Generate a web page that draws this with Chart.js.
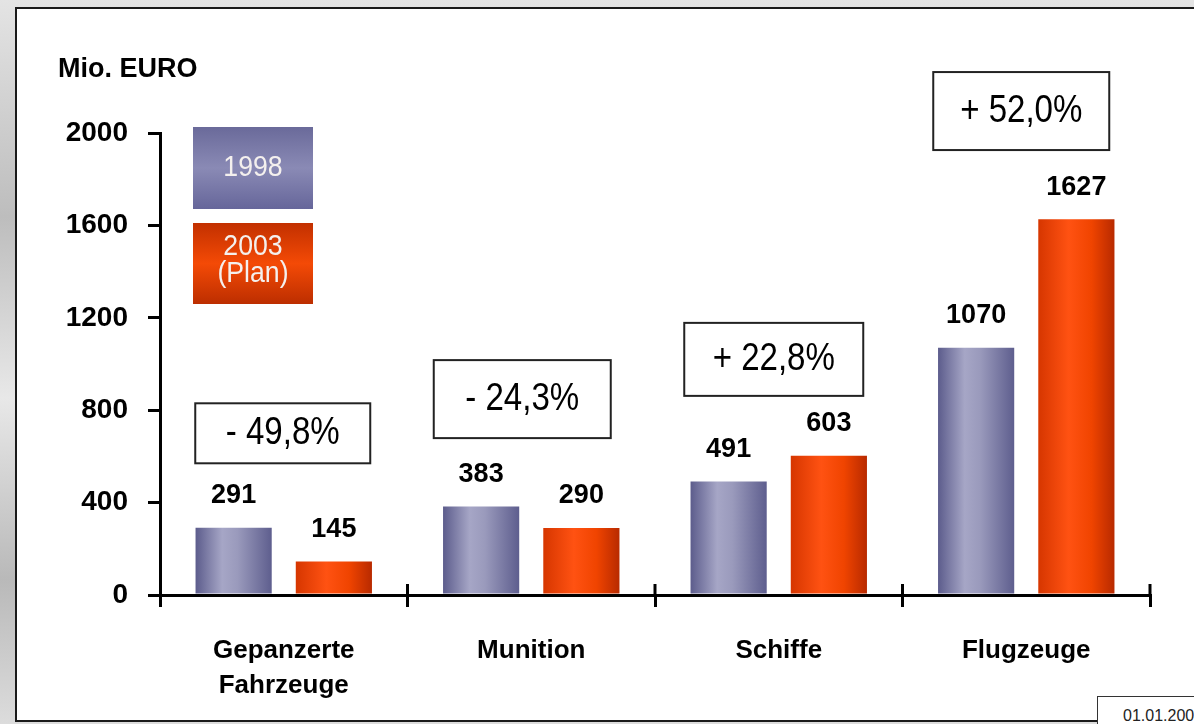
<!DOCTYPE html>
<html>
<head>
<meta charset="utf-8">
<script src="https://cdn.jsdelivr.net/npm/chart.js@4/dist/chart.umd.min.js"></script>
<style>
  html, body { margin: 0; padding: 0; }
  body {
    width: 1194px; height: 724px; overflow: hidden; position: relative;
    background: linear-gradient(180deg, #e4e4e4 0%, #bdbdbd 30%, #e8e8e8 55%, #b9b9b9 80%, #dcdcdc 100%);
  }
  .panel {
    position: absolute; left: 15px; top: 7px; width: 1200px; height: 715px;
    box-sizing: border-box; border: 2px solid #1a1a1a; background: #fff;
  }
  canvas { position: absolute; left: 0; top: 0; }
  .stamp {
    position: absolute; left: 1097px; top: 696px; width: 120px; height: 40px;
    border: 1px solid #333; background: #fff; box-sizing: border-box;
    font: 16px "Liberation Sans", Arial, sans-serif; color: #222;
    padding: 10px 0 0 25px; white-space: nowrap;
  }
</style>
</head>
<body>
<div class="panel"></div>
<canvas id="chart" width="1194" height="724"></canvas>
<div class="stamp">01.01.2003</div>
<script>
// Rüstungsausgaben nach Bereichen, Mio. EURO

const categories = [['Gepanzerte', 'Fahrzeuge'], 'Munition', 'Schiffe', 'Flugzeuge'];
const values1998 = [291, 383, 491, 1070];
const values2003 = [145, 290, 603, 1627];
const changeLabels = ['- 49,8%', '- 24,3%', '+ 22,8%', '+ 52,0%'];
const legendLabels = [['1998'], ['2003', '(Plan)']];
const yTicks = [0, 400, 800, 1200, 1600, 2000];

const FONT = '"Liberation Sans", Arial, sans-serif';
Chart.defaults.font.family = FONT;
Chart.defaults.color = '#000';

// Farbverläufe (horizontal über jeden Balken)
const blueStops = [[0, '#5c5c8c'], [0.35, '#a6a6c6'], [0.55, '#9a9abc'], [1, '#5e5e8e']];
const redStops = [[0, '#d63600'], [0.4, '#ff5212'], [0.7, '#f04400'], [1, '#b82a00']];

// Lage der Prozent-Kästchen (Kategorie, Wert in der Mitte, Verschiebung, Größe)
const changeBoxes = [
    { dx: -1, value: 700, w: 175, h: 60 },
    { dx: -9, value: 848, w: 177, h: 78 },
    { dx: -5, value: 1020, w: 179, h: 73 },
    { dx: -5, value: 2095, w: 176, h: 78 }
];

function makeGradient(ctx, x0, y0, x1, y1, stops) {
    const g = ctx.createLinearGradient(x0, y0, x1, y1);
    stops.forEach(s => g.addColorStop(s[0], s[1]));
    return g;
}

const decorPlugin = {
    id: 'decor',
    beforeDatasetsDraw(chart) {
        const ctx = chart.ctx;
        chart.data.datasets.forEach((ds, i) => {
            const stops = i === 0 ? blueStops : redStops;
            chart.getDatasetMeta(i).data.forEach(el => {
                const g = makeGradient(ctx, el.x - el.width / 2, 0, el.x + el.width / 2, 0, stops);
                el.options = Object.assign({}, el.options, { backgroundColor: g });
            });
        });
    },
    afterDatasetsDraw(chart) {
        const ctx = chart.ctx;
        ctx.save();
        ctx.fillStyle = '#000';
        ctx.font = 'bold 27px ' + FONT;
        ctx.textAlign = 'center';
        ctx.textBaseline = 'middle';
        chart.data.datasets.forEach((ds, i) => {
            chart.getDatasetMeta(i).data.forEach((el, j) => {
                ctx.fillText(String(ds.data[j]), el.x, el.y - 32);
            });
        });
        ctx.restore();
    },
    afterDraw(chart) {
        const ctx = chart.ctx;
        const area = chart.chartArea;
        const xs = chart.scales.x;
        const ys = chart.scales.y;
        ctx.save();

        // Teilstriche der x-Achse auch oberhalb der Achse
        ctx.strokeStyle = '#000';
        ctx.lineWidth = 3;
        for (let i = 1; i <= categories.length; i++) {
            const px = xs.getPixelForValue(i - 0.5);
            ctx.beginPath();
            ctx.moveTo(px, area.bottom - 11);
            ctx.lineTo(px, area.bottom);
            ctx.stroke();
        }

        // Einheit
        ctx.fillStyle = '#000';
        ctx.font = 'bold 27px ' + FONT;
        ctx.textAlign = 'left';
        ctx.textBaseline = 'middle';
        ctx.fillText('Mio. EURO', area.left - 102, area.top - 63);

        // Legende
        const lx = area.left + 33;
        const legendBoxes = [
            { top: area.top - 6, h: 82, stops: [[0, '#6a6a9a'], [0.5, '#8a8ab5'], [1, '#66669a']] },
            { top: area.top + 90, h: 81, stops: [[0, '#c23000'], [0.5, '#f44a06'], [1, '#bc2e00']] }
        ];
        legendBoxes.forEach((b, i) => {
            ctx.fillStyle = makeGradient(ctx, 0, b.top, 0, b.top + b.h, b.stops);
            ctx.fillRect(lx, b.top, 120, b.h);
            ctx.fillStyle = '#f4f0ee';
            ctx.font = '29px ' + FONT;
            ctx.textAlign = 'center';
            const lines = legendLabels[i];
            const lh = 27;
            const cy = b.top + b.h / 2 - (lines.length - 1) * lh / 2 - (lines.length > 1 ? 3 : 0);
            lines.forEach((t, k) => {
                ctx.save();
                ctx.translate(lx + 60, cy + k * lh);
                ctx.scale(0.92, 1);
                ctx.fillText(t, 0, 0);
                ctx.restore();
            });
        });

        // Prozent-Kästchen
        changeBoxes.forEach((b, i) => {
            const cx = xs.getPixelForValue(i) + b.dx;
            const cy = ys.getPixelForValue(b.value);
            ctx.fillStyle = '#fff';
            ctx.fillRect(cx - b.w / 2, cy - b.h / 2, b.w, b.h);
            ctx.strokeStyle = '#222';
            ctx.lineWidth = 2;
            ctx.strokeRect(cx - b.w / 2, cy - b.h / 2, b.w, b.h);
            ctx.save();
            ctx.translate(cx, cy);
            ctx.scale(0.87, 1);
            ctx.fillStyle = '#000';
            ctx.font = '38px ' + FONT;
            ctx.textAlign = 'center';
            ctx.textBaseline = 'middle';
            ctx.fillText(changeLabels[i], 0, 0);
            ctx.restore();
        });
        ctx.restore();
    }
};

new Chart(document.getElementById('chart'), {
    type: 'bar',
    data: {
        labels: categories,
        datasets: [
            {
                label: '1998',
                data: values1998,
                backgroundColor: '#8a8ab0',
                borderWidth: 0,
                categoryPercentage: 0.81,
                barPercentage: 0.76
            },
            {
                label: '2003 (Plan)',
                data: values2003,
                backgroundColor: '#f04800',
                borderWidth: 0,
                categoryPercentage: 0.81,
                barPercentage: 0.76
            }
        ]
    },
    options: {
        responsive: false,
        animation: false,
        events: [],
        layout: {
            padding: { top: 133, right: 44, left: 0, bottom: 0 }
        },
        plugins: {
            legend: { display: false },
            tooltip: { enabled: false },
            title: { display: false }
        },
        scales: {
            x: {
                afterFit(scale) { scale.height = 129; },
                grid: {
                    display: true,
                    drawOnChartArea: false,
                    offset: true,
                    tickLength: 12,
                    color: '#000',
                    lineWidth: 3
                },
                border: { display: true, color: '#000', width: 3 },
                ticks: {
                    padding: 26,
                    color: '#000',
                    font: { size: 26, weight: 'bold', lineHeight: 1.35 }
                }
            },
            y: {
                min: 0,
                max: 2000,
                afterFit(scale) { scale.width = 160; },
                afterBuildTicks(scale) { scale.ticks = yTicks.map(v => ({ value: v })); },
                grid: {
                    display: true,
                    drawOnChartArea: false,
                    tickLength: 12,
                    color: '#000',
                    lineWidth: 3
                },
                border: { display: true, color: '#000', width: 3 },
                ticks: {
                    padding: 20,
                    color: '#000',
                    font: { size: 28, weight: 'bold' },
                    callback: function(value) {
                        return String(value);
                    }
                }
            }
        }
    },
    plugins: [decorPlugin]
});
</script>
</body>
</html>
